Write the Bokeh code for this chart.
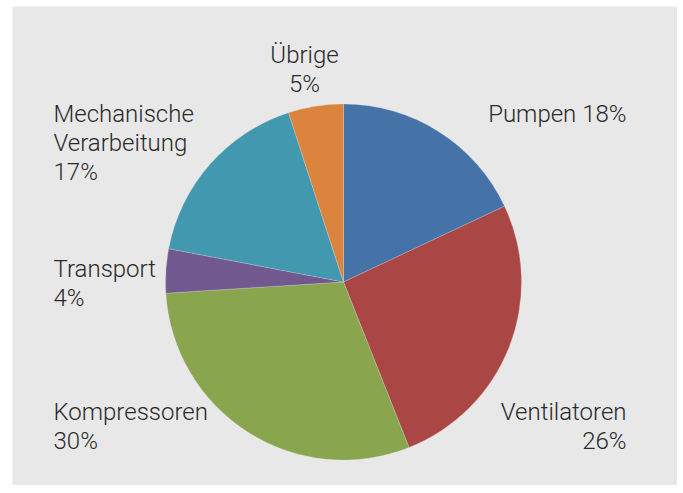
import math
from bokeh.plotting import figure
from bokeh.models import Range1d, ColumnDataSource
from bokeh.embed import file_html
from bokeh.resources import INLINE
from bokeh.core.properties import value

# Data
categories = ["Pumpen", "Ventilatoren", "Kompressoren", "Transport", "Mechanische\nVerarbeitung", "Übrige"]
shares = [18, 26, 30, 4, 17, 5]
colors = ["#4572A7", "#AA4643", "#89A54E", "#71588F", "#4198AF", "#DB843D"]

# Layout (page pixel coordinates; y measured from page bottom, i.e. 493 - py)
H = 493
cx, cy, r = 343, H - 281.5, 178
# label anchor (x, first-baseline y in page px, align), one per category
label_pos = [
    (626, 113, "right", True),    # Pumpen: single line
    (626, 411, "right", False),
    (53, 411, "left", False),
    (53, 268, "left", False),
    (53, 113, "left", False),
    (304, 54, "center", False),
]
line_step = 29

p = figure(width=677, height=485, output_backend="svg", toolbar_location=None,
           x_range=Range1d(12, 677), y_range=Range1d(H - 485, H - 6),
           min_border_left=12, min_border_right=0, min_border_top=6, min_border_bottom=0,
           background_fill_color="#e8e8e8", border_fill_color="white")
p.axis.visible = False
p.xgrid.visible = False
p.ygrid.visible = False
p.outline_line_color = None

total = sum(shares)
starts, ends = [], []
cum = 0
for s in shares:
    starts.append(math.pi / 2 - 2 * math.pi * cum / total)
    cum += s
    ends.append(math.pi / 2 - 2 * math.pi * cum / total)

src = ColumnDataSource(dict(start=starts, end=ends, color=colors))
p.wedge(x=cx, y=cy, radius=r, radius_units="screen", start_angle="start", end_angle="end",
        direction="clock", fill_color="color", line_color="#e8e8e8", line_width=0.6,
        line_alpha=0.4, source=src)

for cat, s, (lx, ly, align, single) in zip(categories, shares, label_pos):
    if single:
        lines = [f"{cat} {s}%"]
    else:
        lines = cat.split("\n") + [f"{s}%"]
    xs = [lx] * len(lines)
    ys = [H - (ly + i * line_step) for i in range(len(lines))]
    p.text(x=xs, y=ys, text=lines, text_font=value("Roboto Light"), text_font_size="24px",
           text_color="#2a2a2a", text_align=align, text_baseline="alphabetic")

open("out.html", "w").write(file_html(p, INLINE))
